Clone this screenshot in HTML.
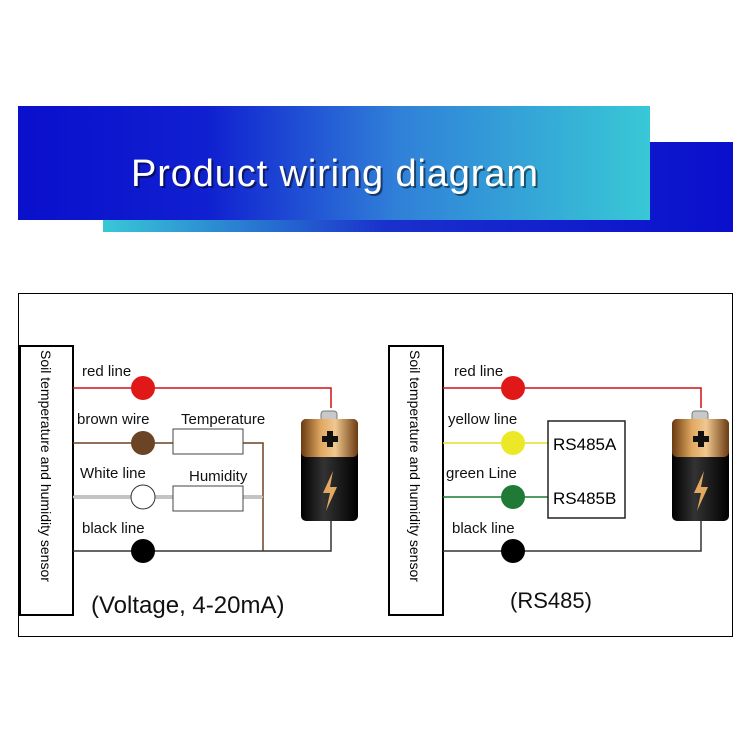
<!DOCTYPE html>
<html><head><style>body{margin:0;background:#fff}svg{display:block}</style></head><body>
<svg width="750" height="750" viewBox="0 0 750 750" xmlns="http://www.w3.org/2000/svg" font-family="Liberation Sans, sans-serif">
<defs>
<linearGradient id="g1" x1="0" x2="1" y1="0" y2="0"><stop offset="0" stop-color="#0a0fcc"/><stop offset="0.3" stop-color="#1020d0"/><stop offset="0.6" stop-color="#3080d8"/><stop offset="1" stop-color="#38c8d6"/></linearGradient>
<linearGradient id="g2" x1="0" x2="1" y1="0" y2="0"><stop offset="0" stop-color="#38c8d6"/><stop offset="0.45" stop-color="#1a30cc"/><stop offset="1" stop-color="#0a0fcc"/></linearGradient>
<linearGradient id="cu" x1="0" x2="1"><stop offset="0" stop-color="#6a3a10"/><stop offset="0.35" stop-color="#e0a860"/><stop offset="0.6" stop-color="#f2c890"/><stop offset="1" stop-color="#6a3a10"/></linearGradient>
<linearGradient id="bk" x1="0" x2="1"><stop offset="0" stop-color="#000"/><stop offset="0.4" stop-color="#333"/><stop offset="1" stop-color="#000"/></linearGradient>
<g id="bat">
<rect x="20" y="-8" width="16" height="10" rx="3" fill="#c8c8c8" stroke="#777"/>
<rect x="0" y="0" width="57" height="102" rx="5" fill="url(#bk)"/>
<rect x="0" y="0" width="57" height="38" rx="5" fill="url(#cu)"/>
<rect x="26" y="12" width="6" height="16" fill="#111"/><rect x="21" y="17" width="16" height="6" fill="#111"/>
<path d="M32 52 L22 74 L29 74 L25 92 L36 68 L29 68 Z" fill="#e0a860"/>
</g>
</defs>
<rect x="103" y="142" width="630" height="90" fill="url(#g2)"/>
<rect x="18" y="106" width="632" height="114" fill="url(#g1)"/>
<text x="133" y="188" font-size="38" textLength="407" fill="#000" opacity="0.5">Product wiring diagram</text>
<text x="131" y="186" font-size="38" textLength="407" fill="#fff">Product wiring diagram</text>

<rect x="18.5" y="293.5" width="714" height="343" fill="none" stroke="#000"/>
<!-- left -->
<rect x="20" y="346" width="53" height="269" fill="#fff" stroke="#000" stroke-width="2"/>
<text transform="translate(41,350) rotate(90)" font-size="14">Soil temperature and humidity sensor</text>
<polyline points="73,388 331,388 331,408" fill="none" stroke="#d01010" stroke-width="1.5"/>
<polyline points="73,443 173,443" fill="none" stroke="#6b4020" stroke-width="1.5"/>
<polyline points="243,443 263,443 263,551" fill="none" stroke="#6b4020" stroke-width="1.5"/>
<line x1="73" y1="497" x2="173" y2="497" stroke="#888" stroke-width="3"/><line x1="73" y1="497" x2="173" y2="497" stroke="#fff" stroke-width="1"/>
<line x1="243" y1="497" x2="263" y2="497" stroke="#888" stroke-width="3"/><line x1="243" y1="497" x2="263" y2="497" stroke="#fff" stroke-width="1"/>
<polyline points="73,551 331,551 331,521" fill="none" stroke="#333" stroke-width="1.5"/>
<rect x="173" y="429" width="70" height="25" fill="#fff" stroke="#444"/>
<rect x="173" y="486" width="70" height="25" fill="#fff" stroke="#444"/>
<circle cx="143" cy="388" r="12" fill="#e01818"/>
<circle cx="143" cy="443" r="12" fill="#6a4424"/>
<circle cx="143" cy="497" r="12" fill="#fff" stroke="#333"/>
<circle cx="143" cy="551" r="12" fill="#000"/>
<g font-size="15" fill="#111">
<text x="82" y="376">red line</text>
<text x="77" y="424">brown wire</text>
<text x="181" y="424">Temperature</text>
<text x="80" y="478">White line</text>
<text x="189" y="481">Humidity</text>
<text x="82" y="533">black line</text>
</g>
<text x="91" y="613" font-size="24" fill="#111">(Voltage, 4-20mA)</text>
<use href="#bat" x="301" y="419"/>
<!-- right -->
<rect x="389" y="346" width="54" height="269" fill="#fff" stroke="#000" stroke-width="2"/>
<text transform="translate(410,350) rotate(90)" font-size="14">Soil temperature and humidity sensor</text>
<polyline points="443,388 701,388 701,408" fill="none" stroke="#d01010" stroke-width="1.5"/>
<line x1="443" y1="443" x2="548" y2="443" stroke="#e8e020" stroke-width="1.5"/>
<line x1="443" y1="497" x2="548" y2="497" stroke="#1a7a30" stroke-width="1.5"/>
<polyline points="443,551 701,551 701,521" fill="none" stroke="#333" stroke-width="1.5"/>
<rect x="548" y="421" width="77" height="97" fill="#fff" stroke="#222" stroke-width="1.5"/>
<circle cx="513" cy="388" r="12" fill="#e01818"/>
<circle cx="513" cy="443" r="12" fill="#ece828"/>
<circle cx="513" cy="497" r="12" fill="#1f7a35"/>
<circle cx="513" cy="551" r="12" fill="#000"/>
<g font-size="15" fill="#111">
<text x="454" y="376">red line</text>
<text x="448" y="424">yellow line</text>
<text x="446" y="478">green Line</text>
<text x="452" y="533">black line</text>
</g>
<text x="553" y="450" font-size="17">RS485A</text>
<text x="553" y="504" font-size="17">RS485B</text>
<text x="510" y="608" font-size="22" fill="#111">(RS485)</text>
<use href="#bat" x="672" y="419"/>
</svg>
</body></html>
